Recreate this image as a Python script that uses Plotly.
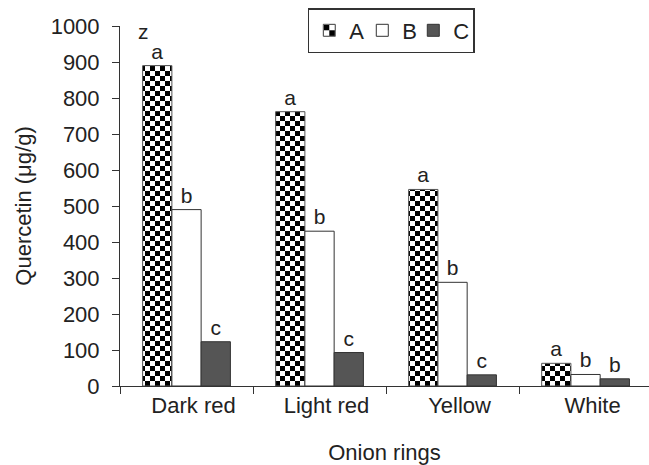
import plotly.graph_objects as go

categories = ["Dark red", "Light red", "Yellow", "White"]
series_names = ["A", "B", "C"]
values_a = [890, 762, 546, 63]
values_b = [490, 430, 288, 32]
values_c = [123, 93, 31, 20]
letters_a = ["a", "a", "a", "a"]
letters_b = ["b", "b", "b", "b"]
letters_c = ["c", "c", "c", "b"]
y_ticks = [0, 100, 200, 300, 400, 500, 600, 700, 800, 900, 1000]
x_title = "Onion rings"
y_title = "Quercetin (μg/g)"
top_note = "z"

FONT = "Liberation Sans, Arial, sans-serif"
TXT = "#222222"
LINE = "#333333"

fig = go.Figure()
fig.add_trace(go.Bar(
    x=categories, y=values_a, name=series_names[0], text=letters_a, legendwidth=8,
    marker=dict(color="white", line=dict(color="#555555", width=1),
                pattern=dict(shape=".", fgcolor="black", bgcolor="white", size=10, solidity=0.5)),
))
fig.add_trace(go.Bar(
    x=categories, y=values_b, name=series_names[1], text=letters_b, legendwidth=6,
    marker=dict(color="white", line=dict(color=LINE, width=1)),
))
fig.add_trace(go.Bar(
    x=categories, y=values_c, name=series_names[2], text=letters_c, legendwidth=15,
    marker=dict(color="#555555", line=dict(color=LINE, width=1)),
))
fig.update_traces(textposition="outside", textangle=0, constraintext="none",
                  cliponaxis=False, outsidetextfont=dict(family=FONT, size=21, color=TXT))

fig.add_annotation(text=top_note, xref="paper", yref="y", x=0.03, y=985,
                   showarrow=False, font=dict(family=FONT, size=21, color=TXT))

fig.update_layout(
    width=649, height=465,
    margin=dict(l=120, r=0, t=26, b=79),
    paper_bgcolor="white", plot_bgcolor="white",
    font=dict(family=FONT, size=22, color=TXT),
    barmode="group", bargap=0.34, bargroupgap=0,
    legend=dict(orientation="h", x=0.355, y=1.05, xanchor="left", yanchor="top",
                bordercolor=LINE, borderwidth=1.5, bgcolor="white", itemwidth=30,
                font=dict(family=FONT, size=22, color=TXT)),
    xaxis=dict(type="category", range=[-0.5, 3.477], showline=True, linecolor=LINE, linewidth=1,
               ticks="outside", tickson="boundaries", ticklen=7, tickcolor=LINE,
               ticklabelshift=7, showgrid=False, automargin=False,
               title=dict(text=x_title, standoff=28, font=dict(family=FONT, size=22, color=TXT))),
    yaxis=dict(range=[0, 1000], tickvals=y_ticks, showline=True, linecolor=LINE, linewidth=1,
               ticks="outside", ticklen=7, tickcolor=LINE, ticklabelstandoff=8,
               showgrid=False, zeroline=False, automargin=False,
               title=dict(text=y_title, standoff=12, font=dict(family=FONT, size=22, color=TXT))),
)

post = """
var gd = document.getElementById('{plot_id}');
function checker(){
  var NS = 'http://www.w3.org/2000/svg';
  gd.querySelectorAll('pattern').forEach(function(p){
    var isLeg = (p.id.indexOf('legend') >= 0) || ((p.getAttribute('patternTransform')||'').indexOf('scale') >= 0);
    var c = isLeg ? 7 : 5;
    p.setAttribute('width', 2*c); p.setAttribute('height', 2*c);
    while(p.firstChild){ p.removeChild(p.firstChild); }
    var specs = [[0,0,2*c,2*c,'white'],[0,0,c,c,'black'],[c,c,c,c,'black']];
    specs.forEach(function(s){
      var r = document.createElementNS(NS, 'rect');
      r.setAttribute('x', s[0]); r.setAttribute('y', s[1]);
      r.setAttribute('width', s[2]); r.setAttribute('height', s[3]);
      r.setAttribute('fill', s[4]);
      p.appendChild(r);
    });
  });
}
checker();
gd.on('plotly_afterplot', checker);
"""

fig.write_html("out.html", config=dict(displayModeBar=False, responsive=False), post_script=post)
